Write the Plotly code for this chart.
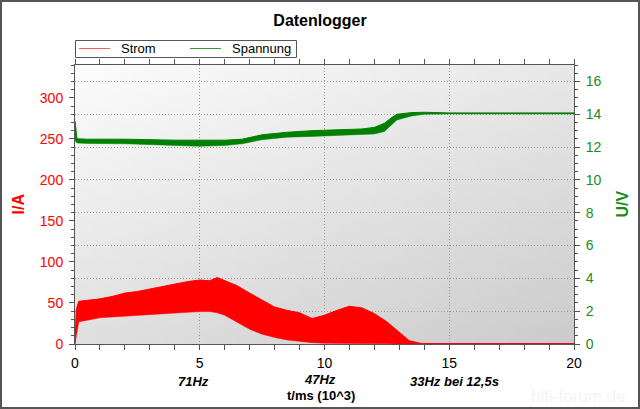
import base64, struct, zlib
import plotly.graph_objects as go

# ---------------- data ----------------
t_i = [0, 0.05, 0.15, 0.5, 1.0, 1.5, 2.0, 2.5, 3.0, 3.5, 4.0, 4.5, 5.0, 5.4, 5.7, 6.0, 6.5,
       7.0, 7.5, 8.0, 8.5, 9.0, 9.5, 10.0, 10.5, 11.0, 11.5, 12.0, 12.5, 13.0, 13.4, 13.9, 20.0]
strom_hi = [0, 42, 52, 53, 55, 58, 62, 64, 67, 70, 73, 76, 78, 77, 81, 77, 71,
            62, 53, 45, 41, 38, 31, 35, 41, 46, 44, 37, 27, 14, 4, 0.5, 0.5]
strom_lo = [0, 10, 27, 29, 32, 33, 34, 35, 36, 37, 38, 39, 39.5, 39.5, 38, 35, 26,
            18, 12, 8, 5, 3, 1.6, 1, 0.7, 0.5, 0.4, 0.3, 0.2, 0.1, 0, 0, 0]

t_u = [0, 0.08, 0.5, 2.0, 4.0, 5.0, 6.0, 6.7, 7.5, 8.5, 9.5, 10.5, 11.5, 12.0, 12.4,
       12.7, 12.9, 13.5, 14.0, 15.0, 20.0]
spannung_hi = [13.6, 12.5, 12.48, 12.48, 12.42, 12.4, 12.42, 12.48, 12.75, 12.9, 13.0, 13.05,
               13.1, 13.2, 13.45, 13.8, 14.0, 14.1, 14.12, 14.08, 14.08]
spannung_lo = [12.4, 12.25, 12.22, 12.2, 12.1, 12.05, 12.1, 12.2, 12.45, 12.6, 12.65, 12.7,
               12.75, 12.8, 12.95, 13.4, 13.65, 13.9, 14.0, 14.02, 14.02]

series_names = ["Strom", "Spannung"]
freq_labels = ["71Hz", "47Hz", "33Hz bei 12,5s"]
freq_pos = [4.75, 9.8, 15.2]

# ---------------- background gradient image ----------------
def gradient_png(w=48, h=48):
    rows = []
    for j in range(h):
        v = j / (h - 1)
        row = bytearray([0])
        for i in range(w):
            u = i / (w - 1)
            c = int(round(252 - 20 * u - 28 * v))
            row += bytes([c, c, c])
        rows.append(bytes(row))
    raw = b"".join(rows)

    def chunk(tag, data):
        return (struct.pack(">I", len(data)) + tag + data +
                struct.pack(">I", zlib.crc32(tag + data) & 0xFFFFFFFF))

    png = (b"\x89PNG\r\n\x1a\n" +
           chunk(b"IHDR", struct.pack(">IIBBBBB", w, h, 8, 2, 0, 0, 0)) +
           chunk(b"IDAT", zlib.compress(raw)) + chunk(b"IEND", b""))
    return "data:image/png;base64," + base64.b64encode(png).decode()

RED = "#ff0000"
GREEN = "#008000"
TXT_GREEN = "#1a8c1a"
AX = "#555555"
FONT = "Liberation Sans, Arial, sans-serif"

PW, PH = 499, 279  # plot area size in px
L, T = 75, 65
def px(x):
    return (x - L) / PW
def py(y):
    return (344 - y) / PH

fig = go.Figure()
fig.add_trace(go.Scatter(x=t_i, y=strom_lo, mode="lines", line=dict(color=RED, width=0.5),
                         showlegend=False, hoverinfo="skip"))
fig.add_trace(go.Scatter(x=t_i, y=strom_hi, mode="lines", line=dict(color=RED, width=1),
                         fill="tonexty", fillcolor=RED, name=series_names[0], showlegend=False))
fig.add_trace(go.Scatter(x=t_u, y=spannung_lo, mode="lines", line=dict(color=GREEN, width=0.5),
                         showlegend=False, yaxis="y2", hoverinfo="skip"))
fig.add_trace(go.Scatter(x=t_u, y=spannung_hi, mode="lines", line=dict(color=GREEN, width=1),
                         fill="tonexty", fillcolor=GREEN, name=series_names[1], showlegend=False,
                         yaxis="y2"))

axis_common = dict(showline=True, linecolor=AX, linewidth=1, ticks="outside",
                   tickcolor=AX, ticklen=5, zeroline=False)
inner_common = dict(showline=False, ticks="inside", tickcolor=AX, ticklen=5, zeroline=False,
                    showgrid=False, showticklabels=False)
GRID = "#9a9a9a"
GDASH = "1px,2px"

fig.update_layout(
    width=640, height=409,
    margin=dict(l=75, r=66, t=65, b=65),
    paper_bgcolor="white", plot_bgcolor="rgba(0,0,0,0)",
    font=dict(family=FONT, size=14, color="black"),
    title=dict(text="<b>Datenlogger</b>", x=0.5, xref="container", y=1 - 20 / 409,
               yanchor="middle", font=dict(size=16, color="black")),
    showlegend=False,
    xaxis=dict(range=[0, 20], dtick=5, tick0=0, showgrid=True, gridcolor=GRID,
               griddash=GDASH, gridwidth=1, mirror="allticks",
               minor=dict(dtick=1, ticks="outside", ticklen=3, tickcolor=AX),
               tickfont=dict(size=14, color="black"), ticklabelstandoff=1, **axis_common),
    xaxis2=dict(range=[0, 20], dtick=5, overlaying="x", anchor="y", mirror="allticks",
                minor=dict(dtick=1, ticks="inside", ticklen=3, tickcolor=AX), **inner_common),
    yaxis=dict(range=[0, 340], dtick=50, showgrid=False,
               minor=dict(dtick=10, ticks="outside", ticklen=3, tickcolor=AX),
               tickfont=dict(size=14, color=RED), ticklabelstandoff=3, **axis_common),
    yaxis2=dict(range=[0, 17], dtick=2, overlaying="y", side="right", showgrid=True,
                gridcolor=GRID, griddash=GDASH, gridwidth=1,
                minor=dict(dtick=0.5, ticks="outside", ticklen=3, tickcolor=AX),
                tickfont=dict(size=14, color=TXT_GREEN), ticklabelstandoff=3, **axis_common),
    yaxis3=dict(range=[0, 340], dtick=50, overlaying="y", side="left", anchor="x",
                minor=dict(dtick=10, ticks="inside", ticklen=3, tickcolor=AX), **inner_common),
    yaxis4=dict(range=[0, 17], dtick=2, overlaying="y", side="right", anchor="x",
                minor=dict(dtick=0.5, ticks="inside", ticklen=3, tickcolor=AX), **inner_common),
    images=[dict(source=gradient_png(), xref="x", yref="y", x=0, y=340, sizex=20, sizey=340,
                 xanchor="left", yanchor="top", sizing="stretch", layer="below")],
)

annotations = [
    dict(text="<b>I/A</b>", xref="paper", yref="paper", x=px(18), y=0.5,
         xanchor="center", yanchor="middle",
         textangle=-90, showarrow=False, font=dict(size=16, color=RED)),
    dict(text="<b>U/V</b>", xref="paper", yref="paper", x=px(622), y=0.5,
         xanchor="center", yanchor="middle",
         textangle=-90, showarrow=False, font=dict(size=16, color=TXT_GREEN)),
    dict(text="<b>t/ms (10^3)</b>", xref="paper", yref="paper", x=px(321), y=py(395.5),
         xanchor="center", yanchor="middle", showarrow=False,
         font=dict(size=13, color="black")),
    dict(text="hifi-forum.de", xref="paper", yref="paper", x=px(578), y=py(396),
         xanchor="center", yanchor="middle", showarrow=False,
         font=dict(size=17, color="#f4f4f4")),
    # manual legend texts
    dict(text=series_names[0], xref="paper", yref="paper", x=px(119), y=py(48.5),
         xanchor="left", yanchor="middle", showarrow=False, font=dict(size=13, color="black")),
    dict(text=series_names[1], xref="paper", yref="paper", x=px(230), y=py(48.5),
         xanchor="left", yanchor="middle", showarrow=False, font=dict(size=13, color="black")),
]
ypos = [381, 379.5, 381]
for lab, pos, yy in zip(freq_labels, freq_pos, ypos):
    annotations.append(dict(text="<b><i>" + lab + "</i></b>", xref="x", yref="paper", x=pos,
                            y=py(yy), xanchor="center", yanchor="middle", showarrow=False,
                            font=dict(size=13, color="black")))
fig.update_layout(annotations=annotations)

# legend box and sample lines
fig.add_shape(type="rect", xref="paper", yref="paper", x0=px(75.5), x1=px(296.5),
              y0=py(57.5), y1=py(40.5), line=dict(color=AX, width=1), fillcolor="white",
              layer="above")
fig.add_shape(type="line", xref="paper", yref="paper", x0=px(79), x1=px(110),
              y0=py(48.5), y1=py(48.5), line=dict(color="#ff5a5a", width=1), layer="above")
fig.add_shape(type="line", xref="paper", yref="paper", x0=px(190), x1=px(221),
              y0=py(48.5), y1=py(48.5), line=dict(color="#3a9a3a", width=1), layer="above")
# outer frame
fig.add_shape(type="rect", xref="paper", yref="paper",
              x0=px(1), x1=px(639), y0=py(408), y1=py(1),
              line=dict(color=AX, width=2), fillcolor="rgba(0,0,0,0)", layer="above")

fig.write_html("out.html", config={"displayModeBar": False},
               post_script="document.body.style.margin='0';")
